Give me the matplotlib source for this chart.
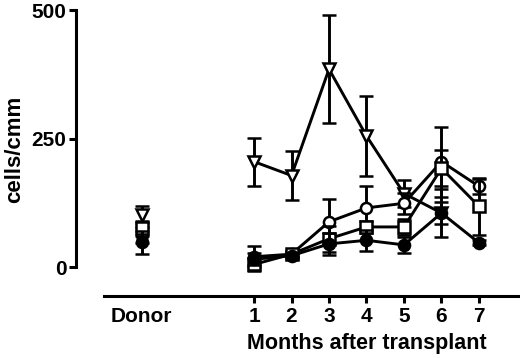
import matplotlib
matplotlib.use("Agg")
import matplotlib.pyplot as plt
import numpy as np

plt.rcParams["font.family"] = ["Liberation Sans", "DejaVu Sans"]
plt.rcParams["font.weight"] = "bold"

# x positions: donor group drawn at -2, months 1..7
donor_x = -2
months = [1, 2, 3, 4, 5, 6, 7]
tick_labels = ["Donor", "1", "2", "3", "4", "5", "6", "7"]

# series values (cells/cmm), donor value first then months
tri_vals = [102, 205, 178, 385, 255, 143, 105]
tri_err = [17, 47, 48, 105, 78, 27, 47]
circ_vals = [62, 20, 25, 88, 115, 124, 205, 157]
circ_err = [15, 20, 6, 44, 42, 20, 68, 15]
sq_vals = [75, 5, 25, 55, 78, 78, 192, 118]
sq_err = [15, 12, 6, 25, 12, 15, 35, 55]
fill_vals = [48, 15, 22, 45, 52, 43, 105, 47]
fill_err = [22, 12, 6, 22, 20, 15, 21, 5]

fig = plt.figure(figsize=(5.2, 3.58), dpi=100)
ax = fig.add_axes([76 / 520, (358 - 277.3) / 358, 443 / 520, (277.3 - 4.9) / 358])

lw = 2.1
common = dict(color="black", linewidth=lw, elinewidth=lw, capsize=4.8,
              capthick=lw, markersize=8, markeredgewidth=1.8, clip_on=False)

series = [
    (tri_vals, tri_err, "v", "white"),
    (circ_vals, circ_err, "o", "white"),
    (sq_vals, sq_err, "s", "white"),
    (fill_vals, fill_err, "o", "black"),
]

for i, (vals, err, mk, fc) in enumerate(series):
    # donor point stands alone, no connecting line
    ax.errorbar([donor_x], vals[:1], yerr=err[:1], fmt=mk, markerfacecolor=fc,
                zorder=3 + i, **common)
    xs = months[: len(vals) - 1]
    ax.errorbar(xs, vals[1:], yerr=err[1:], fmt=mk + "-", markerfacecolor=fc,
                zorder=3 + i, **common)

ax.set_xlim(-3.747, 8.067)
ax.set_ylim(-20, 510)

ax.spines["top"].set_visible(False)
ax.spines["right"].set_visible(False)
ax.spines["left"].set_linewidth(2.2)
ax.spines["left"].set_bounds(0, 500)
ax.spines["bottom"].set_linewidth(2.2)
ax.spines["bottom"].set_position(("outward", 13.7))
ax.spines["bottom"].set_bounds(-3.0, 8.04)

ax.set_yticks([0, 250, 500])
ax.set_xticks([donor_x] + months)
ax.set_xticklabels(tick_labels)
ax.tick_params(axis="both", width=2.2, length=5, labelsize=15, direction="out")
ax.tick_params(axis="x", pad=3)
ax.tick_params(axis="y", pad=2)
ax.xaxis.get_major_ticks()[0].tick1line.set_visible(False)

ax.set_ylabel("cells/cmm", fontsize=16, fontweight="bold")
ax.yaxis.set_label_coords(-0.115, 0.47)
ax.text(4, -0.205, "Months after transplant", transform=ax.get_xaxis_transform(),
        ha="center", va="top", fontsize=15.5, fontweight="bold")

fig.savefig("out.png", dpi=100)
